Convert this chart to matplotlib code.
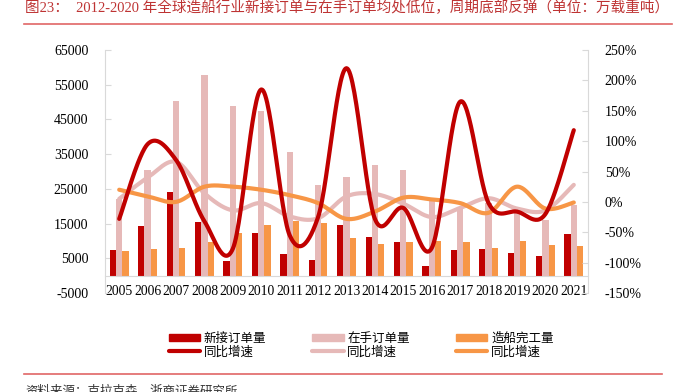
import numpy as np
import matplotlib
matplotlib.use("Agg")
import matplotlib.pyplot as plt
from matplotlib.patches import Patch
from matplotlib.lines import Line2D

years = [str(y) for y in range(2005, 2022)]
new_orders = [7400, 14200, 24100, 15350, 4300, 12200, 6200, 4500, 14500, 11000, 9700, 2800, 7300, 7700, 6400, 5600, 12000]
orderbook = [22000, 30400, 50200, 57900, 48900, 47300, 35600, 26100, 28500, 31800, 30300, 21800, 19400, 20800, 18200, 16000, 20300]
completions = [7200, 7750, 7850, 9800, 12200, 14600, 15800, 15200, 10700, 9100, 9700, 10000, 9800, 7950, 10000, 8800, 8600]
new_growth = [-28, 95, 69, -32, -77, 185, -55, -25, 220, -28, -10, -76, 165, -2, -16, -20, 118]
orderbook_growth = [5, 40, 66, 14, -14, -2, -24, -27, 9, 13, -3, -25, -10, 6, -11, -14, 28]
completion_growth = [20, 9, 0, 25, 25, 20, 11, -2, -28, -16, 7, 4, -2, -18, 25, -11, -1]

left_ticks = [-5000, 5000, 15000, 25000, 35000, 45000, 55000, 65000]
right_ticks = [-150, -100, -50, 0, 50, 100, 150, 200, 250]

C_RED = "#C00000"
C_PINK = "#E6B9B8"
C_ORANGE = "#F79646"

SERIF = ["Liberation Serif", "Noto Sans CJK SC"]
SANS = ["Noto Sans CJK SC", "DejaVu Sans"]
plt.rcParams["font.family"] = SERIF
plt.rcParams["font.size"] = 10


def smooth(xs, ys, n=30):
    xs = np.asarray(xs, float)
    ys = np.asarray(ys, float)
    px = np.concatenate([[xs[0]], xs, [xs[-1]]])
    py = np.concatenate([[ys[0]], ys, [ys[-1]]])
    ox, oy = [], []
    t = np.linspace(0, 1, n)
    for i in range(1, len(px) - 2):
        p0x, p1x, p2x, p3x = px[i - 1], px[i], px[i + 1], px[i + 2]
        p0y, p1y, p2y, p3y = py[i - 1], py[i], py[i + 1], py[i + 2]
        c1x = p1x + (p2x - p0x) / 6
        c1y = p1y + (p2y - p0y) / 6
        c2x = p2x - (p3x - p1x) / 6
        c2y = p2y - (p3y - p1y) / 6
        bx = (1 - t) ** 3 * p1x + 3 * (1 - t) ** 2 * t * c1x + 3 * (1 - t) * t ** 2 * c2x + t ** 3 * p2x
        by = (1 - t) ** 3 * p1y + 3 * (1 - t) ** 2 * t * c1y + 3 * (1 - t) * t ** 2 * c2y + t ** 3 * p2y
        ox.extend(bx)
        oy.extend(by)
    return np.array(ox), np.array(oy)


fig = plt.figure(figsize=(6.77, 3.92), dpi=100)
ax = fig.add_axes([105 / 677, 1 - 293 / 392, (588 - 105) / 677, (293 - 50) / 392])
ax2 = ax.twinx()

x = np.arange(len(years))
w = 0.22
ax.bar(x - w, new_orders, w, color=C_RED, zorder=2)
ax.bar(x, orderbook, w, color=C_PINK, zorder=2)
ax.bar(x + w, completions, w, color=C_ORANGE, zorder=2)

ax.set_xlim(-0.5, len(years) - 0.5)
ax.set_ylim(-5000, 65000)
ax.set_yticks(left_ticks, [str(v) for v in left_ticks])
ax.set_xticks(x, years)

for sp in ["left", "right", "bottom", "top"]:
    ax.spines[sp].set_visible(False)
    ax2.spines[sp].set_visible(False)
ax.spines["left"].set_visible(True)
ax.spines["left"].set_color("#D9D9D9")
ax.spines["bottom"].set_visible(True)
ax.spines["bottom"].set_position(("data", 0))
ax.spines["bottom"].set_color("#D9D9D9")
ax2.spines["right"].set_visible(True)
ax2.spines["right"].set_color("#D9D9D9")

ax.tick_params(axis="y", direction="in", length=4, color="#D9D9D9", pad=12,
               labelsize=10, labelfontfamily="Liberation Serif")
ax.tick_params(axis="x", length=0, pad=7, labelsize=9.8, labelfontfamily="Liberation Serif")

sx, sy = smooth(x, new_growth)
ax2.plot(sx, sy, color=C_RED, lw=3, solid_capstyle="round", zorder=5)
sx, sy = smooth(x, orderbook_growth)
ax2.plot(sx, sy, color=C_PINK, lw=3, solid_capstyle="round", zorder=4)
sx, sy = smooth(x, completion_growth)
ax2.plot(sx, sy, color=C_ORANGE, lw=3, solid_capstyle="round", zorder=4)

ax2.set_ylim(-150, 250)
ax2.set_yticks(right_ticks, [f"{v}%" for v in right_ticks])
ax2.tick_params(axis="y", direction="in", length=4, color="#D9D9D9", pad=12,
                labelsize=10, labelfontfamily="Liberation Serif")

handles = [
    Patch(color=C_RED), Line2D([], [], color=C_RED, lw=3, solid_capstyle="round"),
    Patch(color=C_PINK), Line2D([], [], color=C_PINK, lw=3, solid_capstyle="round"),
    Patch(color=C_ORANGE), Line2D([], [], color=C_ORANGE, lw=3, solid_capstyle="round"),
]
labels = ["新接订单量", "同比增速", "在手订单量", "同比增速", "造船完工量", "同比增速"]
fig.legend(handles, labels, loc="center", bbox_to_anchor=(361 / 677, 1 - 345 / 392), ncol=3,
           frameon=False, prop={"family": SANS, "size": 9}, handlelength=2.5, handleheight=0.5,
           handletextpad=0.3, labelspacing=0.05, columnspacing=3.7, borderpad=0)

fig.text(25 / 677, 1 - 8 / 392, "图23：  2012-2020 年全球造船行业新接订单与在手订单均处低位，周期底部反弹（单位：万载重吨）",
         family=SERIF, fontsize=10.5, color="#BE3333", va="center", ha="left")
fig.add_artist(Line2D([24 / 677, 672 / 677], [1 - 24 / 392, 1 - 24 / 392], color="#E06666", lw=1.2))
fig.add_artist(Line2D([24 / 677, 662 / 677], [1 - 374 / 392, 1 - 374 / 392], color="#E06666", lw=1.2))
fig.text(25 / 677, 1 - 391 / 392, "资料来源：克拉克森，浙商证券研究所", family=SANS, fontsize=9,
         color="#333333", va="center", ha="left")

fig.savefig("out.png", dpi=100)
